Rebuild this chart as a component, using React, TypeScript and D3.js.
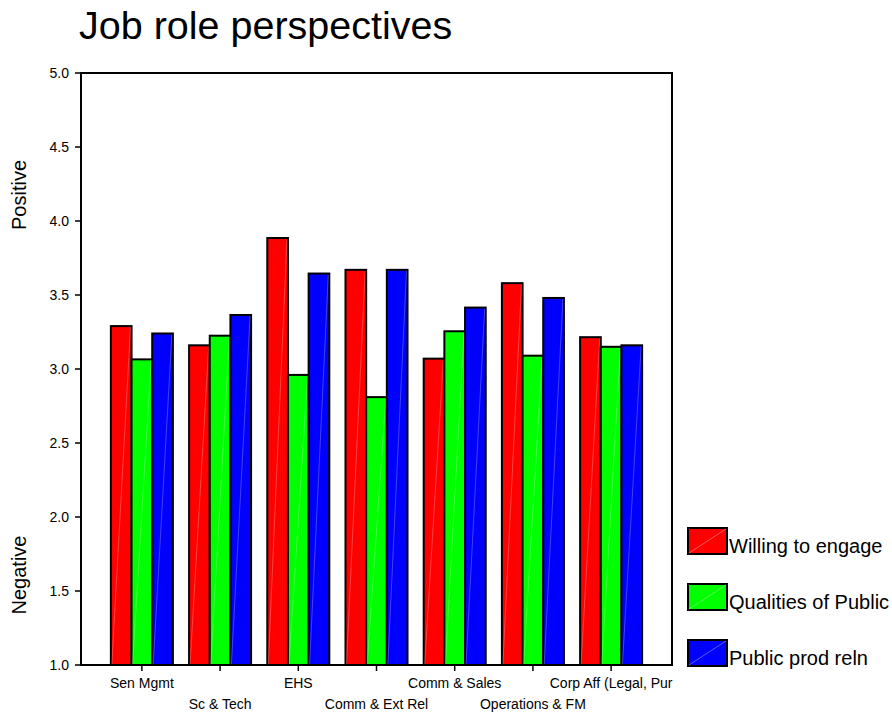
import React from "react";
import * as d3 from "d3";

const categories = [
  "Sen Mgmt",
  "Sc & Tech",
  "EHS",
  "Comm & Ext Rel",
  "Comm & Sales",
  "Operations & FM",
  "Corp Aff (Legal, Pur",
];
const seriesNames = ["Willing to engage", "Qualities of Public", "Public prod reln"];
const willingToEngage = [3.29, 3.16, 3.885, 3.67, 3.07, 3.58, 3.215];
const qualitiesOfPublic = [3.065, 3.225, 2.96, 2.81, 3.255, 3.09, 3.15];
const publicProdReln = [3.24, 3.365, 3.645, 3.67, 3.415, 3.48, 3.16];
const seriesColors = ["#ff0000", "#00ff00", "#0000ff"];
const yTicks = [1.0, 1.5, 2.0, 2.5, 3.0, 3.5, 4.0, 4.5, 5.0];

const FONT = "'Liberation Sans', Arial, Helvetica, sans-serif";

export default function App() {
  const width = 892;
  const height = 713;
  const left = 81;
  const right = 672;
  const top = 73;
  const bottom = 665;

  const series = [willingToEngage, qualitiesOfPublic, publicProdReln];

  const x = d3
    .scaleBand<string>()
    .domain(categories)
    .range([left, right])
    .paddingInner(0.207)
    .paddingOuter(0.382);
  const xInner = d3
    .scaleBand<number>()
    .domain([0, 1, 2])
    .range([0, x.bandwidth()])
    .padding(0);
  const y = d3.scaleLinear().domain([1, 5]).range([bottom, top]);

  return (
    <svg
      width={width}
      height={height}
      style={{ position: "absolute", left: 0, top: 0, background: "#fff" }}
      fontFamily={FONT}
    >
      <text x={79} y={39} fontSize={39.5} fill="#000">
        Job role perspectives
      </text>

      {/* side labels */}
      <text
        transform={`translate(26,195) rotate(-90)`}
        textAnchor="middle"
        fontSize={20}
      >
        Positive
      </text>
      <text
        transform={`translate(26,575) rotate(-90)`}
        textAnchor="middle"
        fontSize={20}
      >
        Negative
      </text>

      {/* bars */}
      {categories.map((c, i) => (
        <g key={c} transform={`translate(${x(c)},0)`}>
          {series.map((vals, s) => {
            const bx = xInner(s)!;
            const bw = xInner.bandwidth();
            const by = y(vals[i]);
            return (
              <g key={s}>
                <rect
                  x={bx}
                  y={by}
                  width={bw}
                  height={bottom - by}
                  fill={seriesColors[s]}
                  stroke="#000"
                  strokeWidth={2}
                />
                <line
                  x1={bx + 1}
                  y1={bottom - 1}
                  x2={bx + bw - 1}
                  y2={by + 1}
                  stroke="#fff"
                  strokeOpacity={0.25}
                  strokeWidth={1}
                />
              </g>
            );
          })}
        </g>
      ))}

      {/* frame */}
      <rect
        x={left}
        y={top}
        width={right - left}
        height={bottom - top}
        fill="none"
        stroke="#000"
        strokeWidth={2}
      />

      {/* y axis */}
      {yTicks.map((t) => (
        <g key={t}>
          <line x1={left - 6} x2={left} y1={y(t)} y2={y(t)} stroke="#000" strokeWidth={1.5} />
          <text
            x={left - 12}
            y={y(t)}
            dy="0.35em"
            textAnchor="end"
            fontSize={14}
          >
            {t.toFixed(1)}
          </text>
        </g>
      ))}

      {/* x axis */}
      {categories.map((c, i) => {
        const cx = x(c)! + x.bandwidth() / 2;
        return (
          <g key={c}>
            <line x1={cx} x2={cx} y1={bottom} y2={bottom + 6} stroke="#000" strokeWidth={1.5} />
            <text
              x={cx}
              y={i % 2 === 0 ? 688 : 709}
              textAnchor="middle"
              fontSize={14}
            >
              {c}
            </text>
          </g>
        );
      })}

      {/* legend */}
      {seriesNames.map((name, s) => {
        const ly = 528 + s * 56;
        return (
          <g key={name}>
            <rect
              x={688}
              y={ly}
              width={39}
              height={26}
              fill={seriesColors[s]}
              stroke="#000"
              strokeWidth={2}
            />
            <line
              x1={689}
              y1={ly + 25}
              x2={726}
              y2={ly + 1}
              stroke="#fff"
              strokeOpacity={0.35}
              strokeWidth={1}
            />
            <text x={729} y={ly + 24.5} fontSize={20}>
              {name}
            </text>
          </g>
        );
      })}
    </svg>
  );
}
